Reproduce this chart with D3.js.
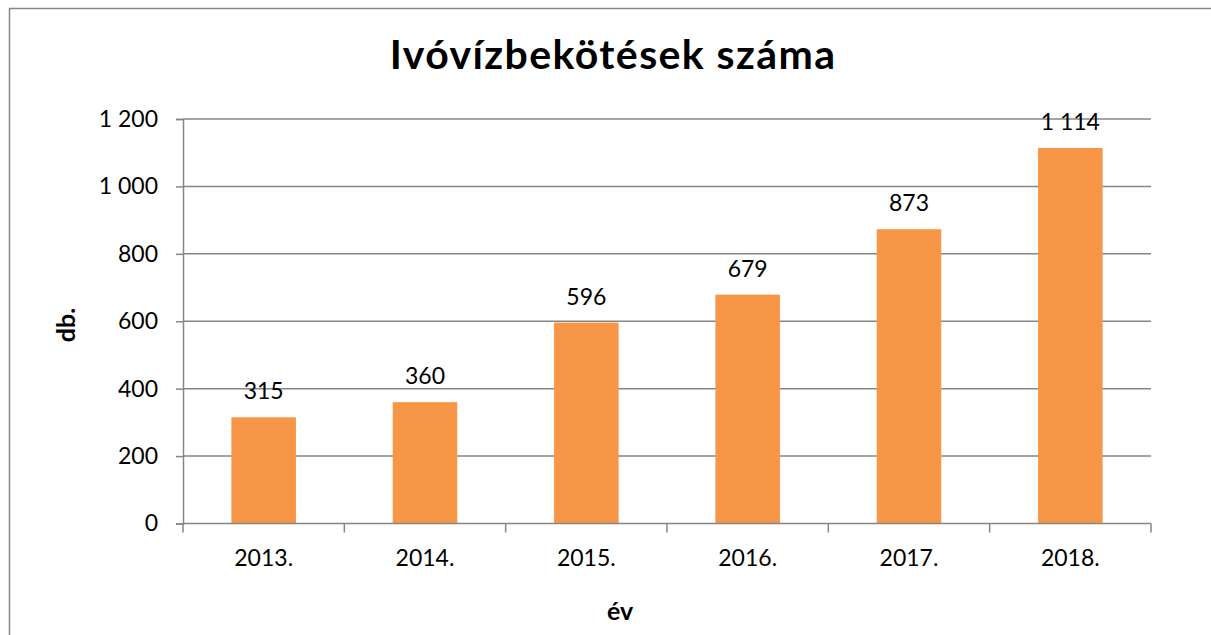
<!DOCTYPE html>
<html><head><meta charset="utf-8">
<script src="https://cdn.jsdelivr.net/npm/d3@7"></script>
<style>html,body{margin:0;background:#fff;overflow:hidden;} svg{display:block;} text{font-family:Lato, "Open Sans", sans-serif;}</style>
</head><body>
<svg id="c" width="1211" height="635"></svg>
<script>
const categories = ["2013.", "2014.", "2015.", "2016.", "2017.", "2018."];
const values = [315, 360, 596, 679, 873, 1114];
const yTicks = [0, 200, 400, 600, 800, 1000, 1200];
const title = "Ivóvízbekötések száma";
const yTitle = "db.";
const xTitle = "év";

const svg = d3.select("#c");
const gray = "#868686";
const L = 183, R = 1151, T = 119, B = 523.5;

// outer chart border (right and bottom edges lie outside the picture)
svg.append("line").attr("x1", 9.5).attr("x2", 9.5).attr("y1", 8).attr("y2", 635)
  .attr("stroke", gray).attr("stroke-width", 1.5);
svg.append("line").attr("x1", 9).attr("x2", 1211).attr("y1", 8.5).attr("y2", 8.5)
  .attr("stroke", gray).attr("stroke-width", 1.5);

const x = d3.scaleBand().domain(categories).range([L, R]).paddingInner(0.6).paddingOuter(0.3);
const y = d3.scaleLinear().domain([0, 1200]).range([B, T]);
const fmt = v => d3.format(",")(v).replace(/,/g, " ");

// gridlines
svg.append("g").selectAll("line").data(yTicks.filter(d => d > 0)).join("line")
  .attr("x1", L).attr("x2", R).attr("y1", d => y(d)).attr("y2", d => y(d))
  .attr("stroke", gray).attr("stroke-width", 1.5);

// y axis
const yAxis = svg.append("g").attr("transform", `translate(${L},0)`)
  .call(d3.axisLeft(y).tickValues(yTicks).tickFormat(fmt).tickSize(7).tickPadding(18));
yAxis.select(".domain").attr("stroke", gray).attr("stroke-width", 1.5);
yAxis.selectAll(".tick line").attr("stroke", gray).attr("stroke-width", 1.5);
yAxis.selectAll("text").attr("font-size", 23).attr("fill", "#000").attr("font-family", "Lato");

// bars
svg.append("g").selectAll("rect").data(values).join("rect")
  .attr("x", (d, i) => x(categories[i])).attr("width", x.bandwidth())
  .attr("y", d => y(d)).attr("height", d => y(0) - y(d)).attr("fill", "#F79646");

// x axis
const step = x.step();
const xg = svg.append("g");
xg.append("line").attr("x1", L).attr("x2", R).attr("y1", B).attr("y2", B).attr("stroke", gray).attr("stroke-width", 1.5);
const bounds = d3.range(categories.length + 1).map(i => L + i * step);
xg.selectAll("line.tk").data(bounds).join("line").attr("class", "tk")
  .attr("x1", d => d).attr("x2", d => d).attr("y1", B).attr("y2", B + 9)
  .attr("stroke", gray).attr("stroke-width", 1.5);
xg.selectAll("text").data(categories).join("text")
  .attr("x", d => x(d) + x.bandwidth() / 2).attr("y", 566)
  .attr("text-anchor", "middle").attr("font-size", 23).text(d => d);

// data labels
svg.append("g").selectAll("text").data(values).join("text")
  .attr("x", (d, i) => x(categories[i]) + x.bandwidth() / 2).attr("y", d => y(d) - 18)
  .attr("text-anchor", "middle").attr("font-size", 23).text(d => fmt(d));

// titles
svg.append("text").attr("x", 613).attr("y", 69).attr("text-anchor", "middle")
  .attr("font-size", 41).attr("font-weight", "bold").attr("letter-spacing", 1.4).text(title);
svg.append("text").attr("transform", "translate(75,325) rotate(-90)").attr("text-anchor", "middle")
  .attr("font-size", 25).attr("font-weight", "bold").text(yTitle);
svg.append("text").attr("x", 620).attr("y", 620).attr("text-anchor", "middle")
  .attr("font-size", 25).attr("font-weight", "bold").text(xTitle);
</script>
</body></html>
